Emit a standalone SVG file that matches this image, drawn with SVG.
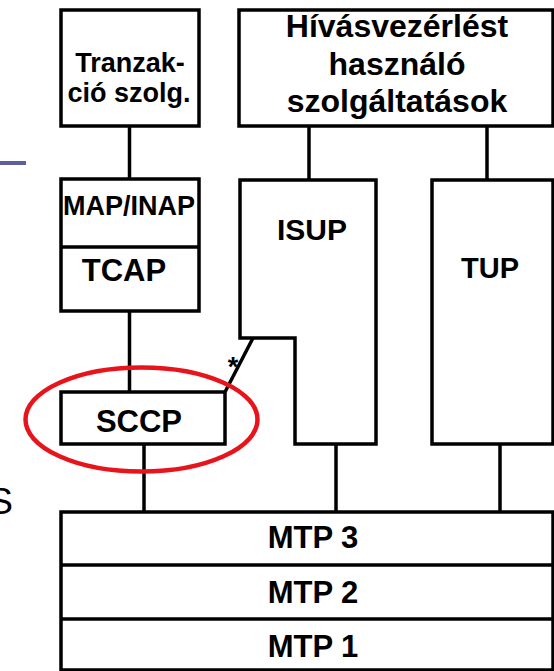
<svg xmlns="http://www.w3.org/2000/svg" width="554" height="671" viewBox="0 0 554 671">
<style>
.box{fill:#fff;stroke:#000;stroke-width:3.5;stroke-linejoin:miter}
.ln{fill:none;stroke:#000;stroke-width:3.5}
.t{font-family:"Liberation Sans",Arial,sans-serif;font-weight:bold;fill:#000;text-anchor:middle}
</style>
<rect width="554" height="671" fill="#fff"/>
<g id="deco">
<line x1="0" y1="163" x2="26" y2="163" stroke="#5f5f9e" stroke-width="4"/>
<text x="13" y="514" font-family="Liberation Sans,Arial,sans-serif" font-size="37" text-anchor="end" fill="#000">S</text>
</g>
<g id="connectors">
<line class="ln" x1="129.5" y1="126" x2="129.5" y2="179"/>
<line class="ln" x1="129.5" y1="311" x2="129.5" y2="392"/>
<line class="ln" x1="144" y1="444" x2="144" y2="512"/>
<line class="ln" x1="309" y1="126" x2="309" y2="180"/>
<line class="ln" x1="487" y1="126" x2="487" y2="180"/>
<line class="ln" x1="336" y1="444" x2="336" y2="512"/>
<line class="ln" x1="500" y1="444" x2="500" y2="512"/>
<line class="ln" x1="253" y1="338" x2="225" y2="392"/>
<text class="t" x="233" y="376" font-size="27">*</text>
</g>
<g id="tranzakcio">
<rect class="box" x="61" y="10" width="138" height="116"/>
<text class="t" x="130" y="72" font-size="27">Tranzak-</text>
<text class="t" x="129" y="102" font-size="27">ció szolg.</text>
</g>
<g id="hivasvezerles">
<rect class="box" x="239" y="10" width="314" height="116"/>
<text class="t" x="397" y="37" font-size="32">Hívásvezérlést</text>
<text class="t" x="397" y="75" font-size="32">használó</text>
<text class="t" x="397" y="112" font-size="32">szolgáltatások</text>
</g>
<g id="map-tcap">
<rect class="box" x="61" y="179" width="138" height="132"/>
<line class="ln" x1="61" y1="247" x2="199" y2="247"/>
<text class="t" x="129" y="215" font-size="27">MAP/INAP</text>
<text class="t" x="124" y="281" font-size="31">TCAP</text>
</g>
<g id="isup">
<path class="box" d="M240 180 H376 V444 H295 V338 H240 Z"/>
<text class="t" x="312" y="240" font-size="30">ISUP</text>
</g>
<g id="tup">
<rect class="box" x="432" y="180" width="121" height="264"/>
<text class="t" x="490" y="278" font-size="29">TUP</text>
</g>
<g id="sccp">
<rect class="box" x="61" y="392" width="164" height="52"/>
<text class="t" x="139" y="432" font-size="31">SCCP</text>
</g>
<g id="mtp">
<rect class="box" x="61" y="512" width="492" height="158"/>
<line class="ln" x1="61" y1="565" x2="553" y2="565"/>
<line class="ln" x1="61" y1="619" x2="553" y2="619"/>
<text class="t" x="313" y="548" font-size="31">MTP 3</text>
<text class="t" x="313" y="603" font-size="31">MTP 2</text>
<text class="t" x="313" y="657" font-size="31">MTP 1</text>
</g>
<g id="highlight">
<ellipse cx="141.5" cy="419.5" rx="116" ry="52" fill="none" stroke="#e8141b" stroke-width="4.5"/>
</g>
</svg>
